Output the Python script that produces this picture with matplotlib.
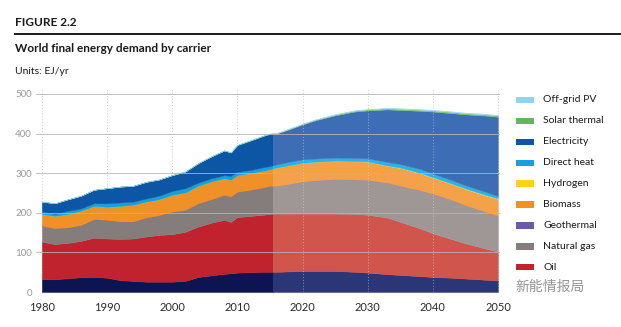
import matplotlib
matplotlib.use("Agg")
import matplotlib.pyplot as plt
from matplotlib.patches import Rectangle
from matplotlib.lines import Line2D

# ---- data (EJ/yr) -------------------------------------------------------
years = [1980, 1982, 1984, 1986, 1988, 1990, 1992, 1994, 1996, 1998,
         2000, 2002, 2004, 2006, 2008, 2009, 2010, 2012, 2014, 2015,
         2016, 2018, 2020, 2022, 2025, 2028, 2030, 2033, 2035, 2038,
         2040, 2043, 2045, 2048, 2050]

coal = [32, 32, 35, 37, 38, 36, 30, 28, 26, 26,
        26, 28, 38, 42, 46, 47, 49, 50, 51, 51,
        51, 52, 53, 53, 53, 51, 49, 45, 43, 40,
        38, 36, 34, 31, 29]
oil = [95, 89, 89, 92, 99, 99, 104, 107, 114, 118,
       120, 124, 127, 133, 136, 130, 140, 142, 144, 146,
       147, 146, 145, 145, 145, 146, 146, 143, 134, 121,
       110, 97, 89, 79, 73]
natural_gas = [40, 40, 39, 40, 47, 47, 44, 43, 48, 50,
               57, 55, 59, 59, 63, 64, 64, 66, 69, 71,
               70, 75, 81, 84, 87, 87, 88, 88, 91, 96,
               100, 99, 96, 93, 91]
geothermal = [0] * 35
biomass = [30, 31, 34, 36, 33, 33, 39, 42, 40, 40,
           42, 44, 44, 45, 42, 42, 42, 42, 42, 42,
           46, 47, 47, 47, 46, 46, 46, 43, 45, 43,
           41, 40, 41, 41, 42]
hydrogen = [0, 0, 0, 0, 0, 0, 0, 0, 0, 0,
            0, 0, 0, 0, 0, 0, 0, 0, 0, 0,
            0, 0, 0, 0, 0.5, 0.5, 0.5, 0.5, 1, 1,
            1, 1, 1.5, 1.5, 1.5]
direct_heat = [6, 5, 8, 6, 7, 9, 9, 8, 8, 9,
               10, 11, 8, 8, 8, 10, 8, 8, 9, 8,
               8, 9, 9, 8, 8, 8, 8, 9, 9, 10,
               9, 9, 8, 8, 6]
electricity = [25, 27, 29, 32, 34, 38, 40, 40, 42, 41,
               40, 42, 49, 55, 62, 59, 68, 74, 79, 81,
               78, 82, 88, 96.5, 106.5, 117, 121, 132.5, 136.5, 146.5,
               156.5, 169.5, 179, 192, 200]
solar_thermal = [0, 0, 0, 0, 0, 0, 0, 0, 0, 0,
                 0, 0, 0.5, 0.5, 0.5, 0.5, 0.5, 1, 1, 1,
                 1, 1.5, 1.5, 2, 2, 2.5, 2.5, 3, 3, 3,
                 3, 3, 3, 3, 3]
offgrid_pv = [0, 0, 0, 0, 0, 0, 0, 0, 0, 0,
              0, 0, 0, 0, 0, 0, 0, 0, 0, 0,
              0, 0.5, 0.5, 0.5, 1, 1, 1, 1, 1.5, 1.5,
              1.5, 1.5, 1.5, 1.5, 1.5]

carriers = ["Coal", "Oil", "Natural gas", "Geothermal", "Biomass", "Hydrogen",
            "Direct heat", "Electricity", "Solar thermal", "Off-grid PV"]
layers = [coal, oil, natural_gas, geothermal, biomass, hydrogen,
          direct_heat, electricity, solar_thermal, offgrid_pv]

forecast_start = 2015.5
x_ticks = [1980, 1990, 2000, 2010, 2020, 2030, 2040, 2050]
y_ticks = [0, 100, 200, 300, 400, 500]

# ---- colours ------------------------------------------------------------
hist_colors = {
    "Coal": "#0c1552", "Oil": "#c0222e", "Natural gas": "#857d7b",
    "Geothermal": "#6a5ba8", "Biomass": "#f09128", "Hydrogen": "#f7d417",
    "Direct heat": "#14a2de", "Electricity": "#0d55a5",
    "Solar thermal": "#5fb85a", "Off-grid PV": "#8fd3f0",
}
proj_colors = {
    "Coal": "#2b3676", "Oil": "#d0554c", "Natural gas": "#9f9795",
    "Geothermal": "#8578bb", "Biomass": "#f4a24a", "Hydrogen": "#f8dc45",
    "Direct heat": "#2ab3e8", "Electricity": "#3c6db5",
    "Solar thermal": "#7cc577", "Off-grid PV": "#a4dcf3",
}

plt.rcParams["font.family"] = ["Lato", "DejaVu Sans"]

W, H = 621, 327
fig = plt.figure(figsize=(W / 100, H / 100), dpi=100)
fig.patch.set_facecolor("white")


def fx(px):
    return px / W


def fy(py):
    return 1 - py / H


ax = fig.add_axes([fx(36), fy(292), (500 - 36) / W, (292 - 90) / H])
ax.set_xlim(1979.1, 2050.3)
ax.set_ylim(0, 510)

# vertical dotted guides (behind the areas)
for x in x_ticks:
    ax.axvline(x, color="#c4c4c4", lw=0.7, ls=(0, (1, 2)), zorder=0.5)

# historical and projected stacks
hist = ax.stackplot(years, *layers,
                    colors=[hist_colors[c] for c in carriers], zorder=2)
proj = ax.stackplot(years, *layers,
                    colors=[proj_colors[c] for c in carriers], zorder=2)
clip_hist = Rectangle((1970, -10), forecast_start - 1970, 600,
                      transform=ax.transData)
clip_proj = Rectangle((forecast_start, -10), 60, 600, transform=ax.transData)
for poly, c in zip(hist, carriers):
    poly.set_edgecolor(hist_colors[c])
    poly.set_linewidth(0.3)
    poly.set_clip_path(clip_hist)
for poly, c in zip(proj, carriers):
    poly.set_edgecolor(proj_colors[c])
    poly.set_linewidth(0.3)
    poly.set_clip_path(clip_proj)

# dotted guides show faintly through the projection
for x in x_ticks:
    if x > forecast_start:
        ax.axvline(x, color="#e8e8e8", lw=0.7, ls=(0, (1, 2)),
                   alpha=0.5, zorder=3)

# horizontal gridlines over the areas
for y in y_ticks:
    ax.axhline(y, color="#b4b4b4", lw=0.7, alpha=0.85, zorder=4)

for s in ax.spines.values():
    s.set_visible(False)
ax.set_xticks(x_ticks)
ax.set_xticklabels([str(x) for x in x_ticks])
ax.set_yticks(y_ticks)
ax.set_yticklabels([str(y) for y in y_ticks])
ax.tick_params(axis="x", length=0, pad=7, labelsize=8, labelcolor="#2a2a2a")
ax.tick_params(axis="y", length=0, pad=3, labelsize=7, labelcolor="#9a9a9a")

# ---- header -------------------------------------------------------------
fig.text(fx(15), fy(22), "FIGURE 2.2", fontsize=8.5, fontweight="bold",
         color="#1a1a1a", va="center", ha="left")
fig.add_artist(Line2D([fx(15), 1.0], [fy(34), fy(34)], color="#1a1a1a",
                      lw=1.4, transform=fig.transFigure))
fig.text(fx(15), fy(48), "World final energy demand by carrier", fontsize=8.5,
         fontweight="bold", color="#1a1a1a", va="center", ha="left")
fig.text(fx(15), fy(72), "Units: EJ/yr", fontsize=7.5, color="#1a1a1a",
         va="center", ha="left")

# ---- legend -------------------------------------------------------------
legend_order = ["Off-grid PV", "Solar thermal", "Electricity", "Direct heat",
                "Hydrogen", "Biomass", "Geothermal", "Natural gas", "Oil"]
for i, name in enumerate(legend_order):
    yc = 100 + i * 20.9
    fig.add_artist(Rectangle((fx(516), fy(yc + 3.2)), 18 / W, 6.4 / H,
                             transform=fig.transFigure,
                             facecolor=hist_colors[name], edgecolor="none"))
    fig.text(fx(543), fy(yc), name, fontsize=7.5, color="#1a1a1a",
             va="center", ha="left")

# source mark
fig.text(fx(515), fy(287), "新能情报局", fontsize=10, color="#8a8a8a",
         va="center", ha="left",
         family=["Noto Sans CJK SC", "DejaVu Sans"], alpha=0.9)

fig.savefig("out.png", dpi=100, facecolor="white")
